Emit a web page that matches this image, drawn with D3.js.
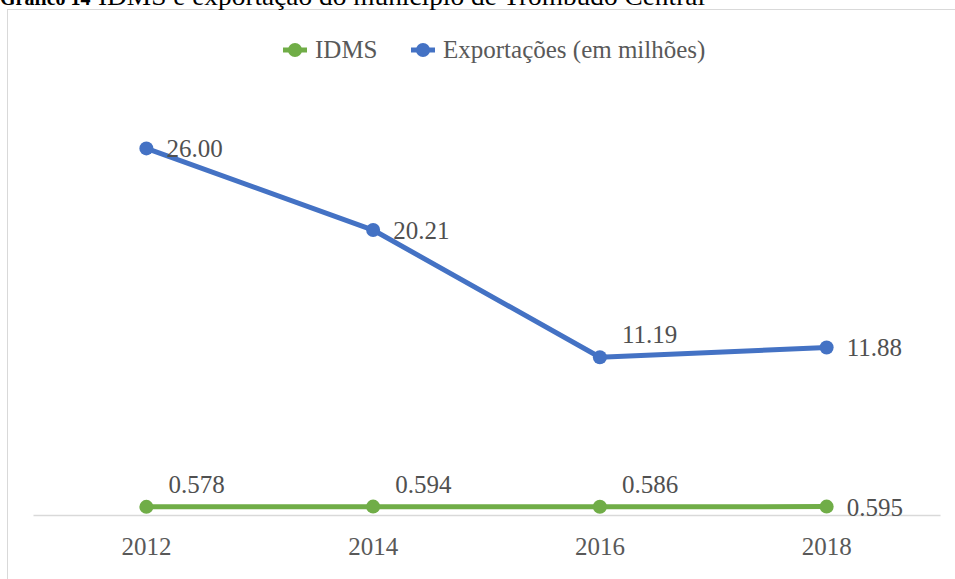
<!DOCTYPE html>
<html>
<head>
<meta charset="utf-8">
<script src="https://cdn.jsdelivr.net/npm/d3@7/dist/d3.min.js"></script>
<style>
  html, body { margin: 0; padding: 0; background: #fff; }
  svg { display: block; }
  text { font-family: "Liberation Serif", "Times New Roman", serif; }
</style>
</head>
<body>
<svg id="chart" width="955" height="579"></svg>
<script>
const years = ["2012", "2014", "2016", "2018"];
const idms = [0.578, 0.594, 0.586, 0.595];
const idmsLabels = ["0.578", "0.594", "0.586", "0.595"];
const exportacoes = [26.00, 20.21, 11.19, 11.88];
const exportLabels = ["26.00", "20.21", "11.19", "11.88"];
const seriesNames = ["IDMS", "Exportações (em milhões)"];
const seriesColors = ["#70AD47", "#4472C4"];
// label placement per point: "right" or "above"
const exportPos = ["right", "right", "above", "right"];
const idmsPos = ["above", "above", "above", "right"];

const svg = d3.select("#chart");
const FS = 25;

// frame
svg.append("rect")
  .attr("x", 7.5).attr("y", 9.5)
  .attr("width", 970).attr("height", 620)
  .attr("fill", "#fff").attr("stroke", "#d9d9d9").attr("stroke-width", 1);

// title (cut off at top, as in the reference)
svg.append("text").attr("x", 0).attr("y", 5)
  .attr("font-size", 20).attr("font-weight", "bold").attr("fill", "#000")
  .text("Gráfico 14");
svg.append("text").attr("x", 81).attr("y", 5)
  .attr("font-size", 20).attr("fill", "#000").text("–");
svg.append("text").attr("x", 98).attr("y", 5)
  .attr("font-size", 26).attr("fill", "#000")
  .attr("textLength", 607).attr("lengthAdjust", "spacingAndGlyphs")
  .text("IDMS e exportação do município de Trombudo Central");

const x = d3.scaleBand().domain(years).range([33, 940]);
const y = d3.scaleLinear().domain([0, 30]).range([515, 92]);
const cx = d => x(d) + x.bandwidth() / 2;

// x axis
const xAxis = d3.axisBottom(x).tickSize(0).tickPadding(22);
const gx = svg.append("g").attr("transform", "translate(0,515)").call(xAxis);
gx.select(".domain").attr("stroke", "#d9d9d9").attr("stroke-width", 1.3);
gx.selectAll("text")
  .attr("font-family", "Liberation Serif, serif")
  .attr("font-size", FS).attr("fill", "#595959");

function drawSeries(values, labels, color, pos) {
  const data = years.map((yr, i) => ({ yr, v: values[i], lab: labels[i], pos: pos[i] }));
  const line = d3.line().x(d => cx(d.yr)).y(d => y(d.v));
  svg.append("path").datum(data)
    .attr("d", line).attr("fill", "none")
    .attr("stroke", color).attr("stroke-width", 5)
    .attr("stroke-linejoin", "round").attr("stroke-linecap", "round");
  svg.selectAll(null).data(data).enter().append("circle")
    .attr("cx", d => cx(d.yr)).attr("cy", d => y(d.v))
    .attr("r", 7).attr("fill", color);
  svg.selectAll(null).data(data).enter().append("text")
    .attr("x", d => cx(d.yr) + (d.pos === "right" ? 20 : 22))
    .attr("y", d => d.pos === "right" ? y(d.v) + 9 : y(d.v) - 14)
    .attr("font-size", FS).attr("fill", "#505050")
    .text(d => d.lab);
}

drawSeries(exportacoes, exportLabels, seriesColors[1], exportPos);
drawSeries(idms, idmsLabels, seriesColors[0], idmsPos);

// legend
const legend = svg.append("g");
const legendItems = [
  { name: seriesNames[0], color: seriesColors[0], x: 283 },
  { name: seriesNames[1], color: seriesColors[1], x: 411 }
];
legendItems.forEach(it => {
  legend.append("line")
    .attr("x1", it.x).attr("x2", it.x + 24)
    .attr("y1", 50).attr("y2", 50)
    .attr("stroke", it.color).attr("stroke-width", 5);
  legend.append("circle").attr("cx", it.x + 12).attr("cy", 50).attr("r", 7).attr("fill", it.color);
  legend.append("text").attr("x", it.x + 32).attr("y", 58)
    .attr("font-size", FS).attr("fill", "#595959").text(it.name);
});
</script>
</body>
</html>
